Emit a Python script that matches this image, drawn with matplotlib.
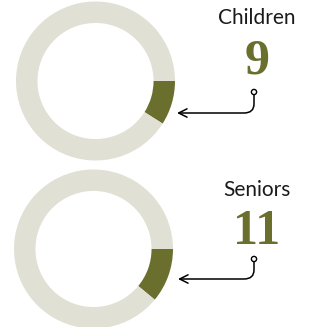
import matplotlib
matplotlib.use('Agg')
import matplotlib.pyplot as plt
from matplotlib.path import Path
from matplotlib.patches import FancyArrowPatch, Circle

# Data
groups = ["Children", "Seniors"]
values = [9, 11]
total = 100

DARK = "#6b6f2e"
LIGHT = "#e0e0d5"

W, H = 316, 327
fig = plt.figure(figsize=(W / 100, H / 100), dpi=100)

# overlay axes in pixel coordinates for labels and arrows
ax0 = fig.add_axes([0, 0, 1, 1])
ax0.set_xlim(0, W)
ax0.set_ylim(H, 0)
ax0.axis("off")

# layout per donut: center x, center y, radius (pixels)
centers = [(95.5, 81, 79.5), (93.5, 249, 79.5)]
label_y = [(18, 62), (190, 232)]
arrow_y = [(92, 113, 177), (259, 279, 178)]

for i, (name, val) in enumerate(zip(groups, values)):
    cx, cy, r = centers[i]
    ax = fig.add_axes([(cx - r) / W, (H - cy - r) / H, 2 * r / W, 2 * r / H])
    ax.pie([val, total - val], colors=[DARK, LIGHT], startangle=0,
           counterclock=False, radius=1,
           wedgeprops=dict(width=0.27, linewidth=0))
    ax.set_xlim(-1, 1)
    ax.set_ylim(-1, 1)
    ax.axis("off")

    ty, ny = label_y[i]
    ax0.text(257, ty, name, ha="center", va="center", fontsize=15,
             family="Lato", color="#1a1a1a")
    ax0.text(257, ny, str(val), ha="center", va="center", fontsize=36,
             family="Liberation Serif", fontweight="bold", color=DARK)

    y0, y1, xend = arrow_y[i]
    px = 254
    verts = [(px, y0 + 2), (px, y1 - 9), (px, y1), (px - 10, y1), (xend, y1)]
    codes = [Path.MOVETO, Path.LINETO, Path.CURVE3, Path.CURVE3, Path.LINETO]
    arr = FancyArrowPatch(path=Path(verts, codes), arrowstyle="->",
                          mutation_scale=15, lw=1.1, color="black",
                          transform=ax0.transData)
    ax0.add_patch(arr)
    ax0.add_patch(Circle((px, y0), 2.6, facecolor="white", edgecolor="black",
                         lw=1.0, zorder=5))

fig.savefig("out.png", dpi=100)
